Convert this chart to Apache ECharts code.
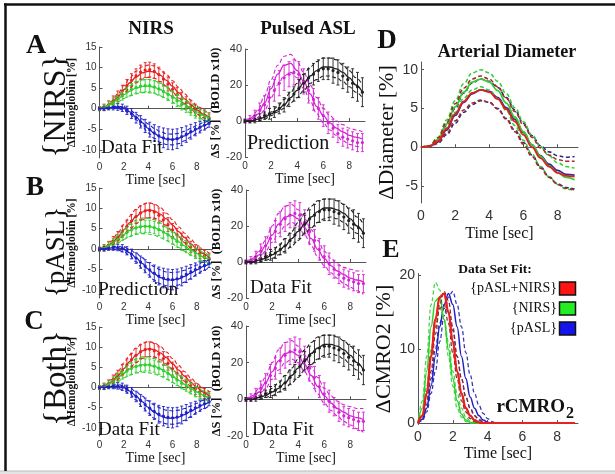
<!DOCTYPE html>
<html><head><meta charset="utf-8">
<script src="https://cdn.jsdelivr.net/npm/echarts@6/dist/echarts.min.js"></script>
<style>html,body{margin:0;padding:0;background:#fff}#c{width:615px;height:474px}</style>
</head><body><div id="c"></div>
<script>
// ---------- time grids ----------
const tData = [0,0.375,0.75,1.125,1.5,1.875,2.25,2.625,3,3.375,3.75,4.125,4.5,4.875,5.25,5.625,6,6.375,6.75,7.125,7.5,7.875,8.25,8.625,9];
const tFit = [0,0.5,1,1.5,2,2.5,3,3.5,4,4.5,5,5.5,6,6.5,7,7.5,8,8.5,9];
const tE = [0,0.25,0.5,0.75,1,1.25,1.5,1.75,2,2.25,2.5,2.75,3,3.25,3.5,3.75,4,4.25,4.5,4.75,5,9];
const timeTicks = [0,2,4,6,8];
const nirsTicks = [-10,-5,0,5,10,15];
const diamTicks = [-5,0,5,10];
const cmroTicks = [0,10,20];

// ---------- NIRS measured data (same in every row) ----------
const redData   = [0,0.3,0.9,1.9,3.0,4.3,5.6,6.9,8.0,8.9,9.4,9.5,9.1,8.3,7.2,6.0,4.7,3.5,2.4,1.4,0.5,-0.3,-1.0,-1.6,-2.2];
const redErr    = [0.5,0.8,1.0,1.2,1.3,1.4,1.5,1.6,1.7,1.7,1.8,1.8,1.8,1.8,1.7,1.7,1.6,1.6,1.5,1.5,1.4,1.4,1.3,1.3,1.2];
const greenData = [0,0.3,0.8,1.6,2.4,3.3,4.1,4.7,5.2,5.5,5.6,5.6,5.3,4.8,4.2,3.5,2.7,1.9,1.1,0.4,-0.3,-1.0,-1.6,-2.1,-2.6];
const greenErr  = [0.4,0.7,0.9,1.0,1.1,1.2,1.3,1.4,1.4,1.5,1.5,1.5,1.5,1.5,1.5,1.5,1.4,1.4,1.4,1.3,1.3,1.3,1.2,1.2,1.2];
const blueData  = [0,0.1,0.3,0.4,0.4,0.2,-0.4,-1.2,-2.2,-3.2,-4.2,-5.1,-5.9,-6.6,-7.1,-7.4,-7.5,-7.3,-6.8,-6.2,-5.6,-5.0,-4.5,-4.0,-3.5];
const blueErr   = [0.3,0.5,0.6,0.7,0.8,0.9,1.0,1.2,1.3,1.5,1.6,1.8,2.0,2.2,2.4,2.5,2.5,2.4,2.2,2.0,1.8,1.6,1.4,1.2,1.0];

// ---------- Pulsed ASL measured data ----------
const magData = [0,1,3,6,9,13,17,21,24,26,27,26,22,17,12,7,3,-1,-4,-7,-9,-10,-11,-12,-12];
const magErr  = [1,2,3,4,5,6,6,7,7,7,7,7,7,7,6,6,6,6,5,5,5,5,5,5,5];
const blkData = [0,0,1,2,3,4,5,7,9,12,15,18,21,24,26,28,29,29,28,27,25,23,21,19,16];
const blkErr  = [1,1,2,2,2,3,3,3,4,4,4,5,5,5,6,6,6,6,7,7,7,7,8,8,8];

// ---------- NIRS fits, row A ----------
const redFitA   = [0,0.4,1.4,2.9,4.6,6.3,7.7,8.7,9.1,8.9,8.1,6.9,5.4,3.9,2.4,1.0,-0.3,-1.3,-2.2];
const redUpA    = [0,0.6,1.8,3.6,5.6,7.5,9.1,10.2,10.6,10.4,9.6,8.3,6.8,5.2,3.6,2.1,0.7,-0.4,-1.3];
const redLoA    = [0,0.2,1.0,2.2,3.6,5.1,6.3,7.2,7.6,7.4,6.6,5.5,4.0,2.6,1.2,-0.1,-1.3,-2.2,-3.1];
const greenFitA = [0,0.3,1.2,2.3,3.4,4.3,5.0,5.4,5.5,5.2,4.6,3.8,2.9,2.0,1.0,0.1,-0.8,-1.6,-2.3];
const greenUpA  = [0,0.5,1.6,3.0,4.4,5.6,6.5,7.0,7.1,6.8,6.2,5.3,4.3,3.3,2.3,1.3,0.4,-0.5,-1.3];
const greenLoA  = [0,0.1,0.8,1.6,2.5,3.1,3.6,3.9,3.9,3.7,3.1,2.4,1.6,0.7,-0.2,-1.1,-1.9,-2.6,-3.2];
const blueFitA  = [0,0.1,0.3,0.3,0.0,-0.8,-2.0,-3.4,-4.8,-6.0,-6.9,-7.4,-7.5,-7.2,-6.6,-5.8,-5.0,-4.2,-3.5];
const blueUpA   = [0,0.2,0.5,0.6,0.4,-0.3,-1.3,-2.5,-3.7,-4.8,-5.6,-6.1,-6.2,-6.0,-5.5,-4.8,-4.1,-3.4,-2.8];
const blueLoA   = [0,0,0.1,0,-0.4,-1.3,-2.7,-4.3,-5.9,-7.2,-8.2,-8.7,-8.8,-8.5,-7.8,-6.9,-6.0,-5.1,-4.3];

// ---------- NIRS fits, rows B and C ----------
const redFitBC   = [0,0.4,1.4,2.9,4.7,6.5,8.0,9.1,9.6,9.4,8.6,7.4,5.9,4.3,2.8,1.3,0,-1.1,-2.1];
const redUpBC    = [0,0.7,2.0,3.9,6.1,8.1,9.8,10.9,11.4,11.1,10.2,8.8,7.2,5.5,3.9,2.4,1.0,-0.1,-1.0];
const redLoBC    = [0,0.2,0.9,2.0,3.4,4.9,6.2,7.2,7.7,7.6,6.9,5.8,4.5,3.0,1.6,0.3,-0.9,-2.0,-3.0];
const greenFitBC = [0,0.3,1.2,2.4,3.6,4.6,5.3,5.6,5.6,5.3,4.6,3.8,2.8,1.8,0.8,-0.2,-1.1,-1.9,-2.6];
const greenUpBC  = [0,0.5,1.7,3.2,4.8,6.1,7.1,7.6,7.6,7.2,6.4,5.4,4.3,3.2,2.1,1.1,0.1,-0.8,-1.6];
const greenLoBC  = [0,0.1,0.7,1.5,2.4,3.1,3.6,3.8,3.7,3.4,2.8,2.1,1.2,0.4,-0.5,-1.4,-2.2,-2.9,-3.5];
const blueFitBC  = [0,0.1,0.3,0.3,-0.1,-0.9,-2.1,-3.5,-4.9,-6.1,-7.0,-7.5,-7.6,-7.3,-6.7,-5.9,-5.1,-4.3,-3.6];
const blueUpBC   = [0,0.2,0.6,0.7,0.5,-0.1,-1.0,-2.1,-3.3,-4.3,-5.1,-5.6,-5.8,-5.6,-5.2,-4.6,-3.9,-3.2,-2.6];
const blueLoBC   = [0,0,0,-0.2,-0.7,-1.6,-3.1,-4.7,-6.3,-7.6,-8.5,-9.0,-9.1,-8.8,-8.1,-7.2,-6.2,-5.3,-4.5];

// ---------- ASL fits ----------
const magFitA  = [0,1,4,10,18,26,31,32,28,22,15,8,3,-1,-4,-6,-8,-9,-10];
const magUpA   = [0,2,6,14,23,31,36,37,33,27,20,13,7,3,0,-2,-4,-5,-6];
const magLoA   = [0,0,2,6,13,20,25,27,24,18,11,4,-1,-5,-8,-11,-13,-14,-15];
const blkFitA  = [0,0,1,2,4,6,9,13,17,21,25,28,30,30,29,27,24,20,16];
const blkUpA   = [0,0,1,3,5,8,12,16,21,26,30,33,35,35,34,31,28,24,20];
const blkLoA   = [0,0,0,1,3,5,7,10,13,17,21,23,25,25,24,22,19,16,13];
const magFitBC = [0,1,4,9,15,21,25,26,24,19,13,7,2,-2,-5,-7,-9,-10,-11];
const magUpBC  = [0,2,6,12,20,27,31,32,29,24,18,12,6,2,-1,-3,-4,-5,-5];
const magLoBC  = [0,0,2,6,11,16,20,22,20,15,9,3,-2,-6,-9,-12,-14,-16,-18];
const blkFitBC = [0,0,1,2,4,6,9,13,17,21,25,28,30,30,29,27,24,20,16];
const blkUpBC  = [0,0,1,3,6,9,13,17,22,27,31,34,35,35,34,32,29,25,21];
const blkLoBC  = [0,0,0,1,2,4,6,9,12,16,19,22,24,25,24,22,19,16,12];

// ---------- D: arterial diameter ----------
const dGreen   = [0,0.1,1.0,3.0,5.2,7.1,8.4,8.8,8.4,7.3,5.7,3.9,2.0,0.3,-1.2,-2.4,-3.3,-3.9,-4.2];
const dGreenUp = [0,0.2,1.3,3.5,6.0,8.2,9.6,10.0,9.6,8.5,6.9,5.1,3.3,1.6,0.1,-1.1,-2.0,-2.5,-2.7];
const dGreenLo = [0,0.1,0.8,2.5,4.5,6.3,7.4,7.8,7.4,6.3,4.7,2.8,0.9,-0.9,-2.5,-3.8,-4.8,-5.4,-5.6];
const dRed     = [0,0.1,0.8,2.4,4.3,5.9,7.0,7.4,7.1,6.2,4.9,3.3,1.6,0.0,-1.4,-2.5,-3.3,-3.7,-3.8];
const dRedUp   = [0,0.2,1.2,3.2,5.6,7.6,8.8,9.2,8.8,7.8,6.3,4.6,2.9,1.3,-0.1,-1.0,-1.6,-1.8,-1.8];
const dRedLo   = [0,0.1,0.6,1.8,3.4,4.8,5.7,6.1,5.8,4.9,3.6,2.0,0.4,-1.2,-2.7,-3.9,-4.8,-5.3,-5.5];
const dBlue    = [0,0.1,0.7,2.2,4.1,5.8,6.9,7.4,7.2,6.4,5.1,3.6,1.9,0.3,-1.1,-2.2,-3.0,-3.5,-3.6];
const dBlueUp  = [0,0.1,1.0,2.8,5.0,7.0,8.3,8.8,8.5,7.7,6.4,4.8,3.1,1.5,0.2,-0.6,-1.1,-1.3,-1.2];
const dBlueLo  = [0,0.1,0.5,1.6,3.1,4.5,5.5,6.0,5.8,5.0,3.7,2.2,0.6,-1.0,-2.5,-3.8,-4.7,-5.2,-5.4];

// ---------- E: rCMRO2 ----------
const eGreen   = [0,2,7,13,16.5,17,14,10,6,3,1.2,0.4,0.1,0,0,0,0,0,0,0,0,0];
const eGreenUp = [0,3,9,16,19,18,14,9,5,2,0.8,0.2,0,0,0,0,0,0,0,0,0,0];
const eGreenLo = [0,1,5,10,14,15.5,14,11,7,4,2,0.8,0.3,0.1,0,0,0,0,0,0,0,0];
const eRed     = [0,1,4,9,14,17,17.5,15,11,7,4,2,1,0.4,0.1,0,0,0,0,0,0,0];
const eRedUp   = [0,1,3,7,12,16,17.8,16.5,13,9,6,3.5,2,1,0.5,0.2,0,0,0,0,0,0];
const eRedLo   = [0,1,4,9,13,15.5,16,13.5,9.5,6,3,1.5,0.6,0.2,0,0,0,0,0,0,0,0];
const eBlue    = [0,0.5,2,5,9,13,16,17.5,16,13,9,6,3.5,2,1,0.4,0.1,0,0,0,0,0];
const eBlueUp  = [0,0.3,1.5,4,7,11,14.5,17,17.8,16,13,9.5,6.5,4,2.4,1.3,0.6,0.2,0,0,0,0];
const eBlueLo  = [0,0.6,2.5,6,10,13.5,15.5,15,12.5,9,6,3.5,2,1,0.4,0.1,0,0,0,0,0,0];

// ---------- legend labels ----------
const legendTitle = 'Data Set Fit:';
const legendNames = ['{pASL+NIRS}','{NIRS}','{pASL}'];

// ================= styling / layout =================
const SERIF = "'Liberation Serif','Times New Roman',serif";
const SANS = "'Liberation Sans Narrow','Liberation Sans',Arial,sans-serif";
const C = {red:'#e82020', green:'#2ed02e', blue:'#2020c8', mag:'#d424d4', blk:'#202020',
           dRed:'#e02020', dRedD:'#a82828', dGreen:'#34cc34', dBlue:'#3a2a92', dBlueD:'#2a2a80'};

const grids = [
  {left:99.5, top:47,  width:112, height:111},
  {left:245,  top:49,  width:120, height:108},
  {left:99.5, top:188, width:112, height:110},
  {left:246,  top:190, width:120, height:108},
  {left:99.5, top:327, width:112, height:109},
  {left:246,  top:326, width:120, height:110},
  {left:421,  top:62,  width:157, height:141},
  {left:418,  top:273.5,width:160, height:151}
];

const axLine = {show:true, lineStyle:{color:'#555', width:1}};
function xAx(g, small) {
  return {gridIndex:g, type:'value', min:0, max:9.2,
    axisLine:axLine, splitLine:{show:false},
    axisTick:{inside:true, length:3, lineStyle:{color:'#555'}, customValues:timeTicks},
    axisLabel:{customValues:timeTicks, fontFamily:SANS, fontSize: small?10:14, color:'#333', margin: small?4:6},
    name:'Time [sec]', nameLocation:'middle', nameGap: small?9:(g===6?23:20),
    nameTextStyle:{fontFamily:SERIF, fontSize: small?14:16, color:'#111'}};
}
function yAx(g, opt) {
  const o = {gridIndex:g, type:'value', min:opt.min, max:opt.max,
    axisLine:axLine, splitLine:{show:false},
    axisTick:{inside:true, length:3, lineStyle:{color:'#555'}},
    axisLabel:{fontFamily:SANS, fontSize:opt.fs, color:'#333', margin:3},
    name:opt.name, nameLocation:'middle', nameGap:opt.gap, nameRotate:90,
    nameTextStyle:{fontFamily:SERIF, fontSize:opt.nfs, fontWeight:opt.bold?'bold':'normal', color:'#111'}};
  if (opt.ticks) { o.axisTick.customValues = opt.ticks; o.axisLabel.customValues = opt.ticks; }
  else { o.interval = opt.interval; }
  return o;
}
const nirsY = g => yAx(g, {min:-12, max:15, ticks:nirsTicks, fs:10, name:'ΔHemoglobin [%]', gap:12, nfs:11.5, bold:true});
const aslY  = g => yAx(g, {min:-20, max:40, interval:20, fs:11, name:'ΔS [%]  (BOLD x10)', gap:17, nfs:12.5, bold:true});

const xAxis = [xAx(0,1),xAx(1,1),xAx(2,1),xAx(3,1),xAx(4,1),xAx(5,1),xAx(6,0),xAx(7,0)];
const yAxis = [nirsY(0), aslY(1), nirsY(2), aslY(3), nirsY(4), aslY(5),
  yAx(6,{min:-7.2, max:11, ticks:diamTicks, fs:14, name:'ΔDiameter [%]', gap:19, nfs:22}),
  yAx(7,{min:-0.2, max:20.2, ticks:cmroTicks, fs:14, name:'ΔCMRO2 [%]', gap:19, nfs:22})];

const pts = (ts, vs) => ts.map((t,i)=>[t, vs[i]]);
const series = [];
function errSeries(g, vals, errs, color) {
  series.push({type:'custom', xAxisIndex:g, yAxisIndex:g, z:2, silent:true,
    data: tData.map((t,i)=>[t, vals[i], errs[i]]),
    encode:{x:0, y:1},
    renderItem:(params, api) => {
      const x=api.value(0), y=api.value(1), e=api.value(2);
      const a=api.coord([x,y+e]), b=api.coord([x,y-e]), c=api.coord([x,y]);
      const st={stroke:color, lineWidth:0.9};
      return {type:'group', children:[
        {type:'line', shape:{x1:a[0],y1:a[1],x2:b[0],y2:b[1]}, style:st},
        {type:'line', shape:{x1:a[0]-1.5,y1:a[1],x2:a[0]+1.5,y2:a[1]}, style:st},
        {type:'line', shape:{x1:b[0]-1.5,y1:b[1],x2:b[0]+1.5,y2:b[1]}, style:st},
        {type:'circle', shape:{cx:c[0],cy:c[1],r:1.6}, style:{fill:color}}
      ]};
    }});
}
function line(g, ts, vals, color, dashed, w) {
  series.push({type:'line', xAxisIndex:g, yAxisIndex:g, z:3, silent:true,
    data: pts(ts, vals), showSymbol:false, smooth:0.4, smoothMonotone:'x',
    lineStyle:{color, width: w || (dashed?1.1:1.3), type: dashed?[4,2.5]:'solid'}});
}
function trio(g, ts, mid, up, lo, color, dashColor, w) {
  line(g, ts, up, dashColor||color, true, w && w*0.85);
  line(g, ts, lo, dashColor||color, true, w && w*0.85);
  line(g, ts, mid, color, false, w);
}

// NIRS rows
[[0,'A'],[2,'BC'],[4,'BC']].forEach(([g,k]) => {
  errSeries(g, redData, redErr, C.red);
  errSeries(g, greenData, greenErr, C.green);
  errSeries(g, blueData, blueErr, C.blue);
  if (k==='A') {
    trio(g, tFit, redFitA, redUpA, redLoA, C.red);
    trio(g, tFit, greenFitA, greenUpA, greenLoA, C.green);
    trio(g, tFit, blueFitA, blueUpA, blueLoA, C.blue);
  } else {
    trio(g, tFit, redFitBC, redUpBC, redLoBC, C.red);
    trio(g, tFit, greenFitBC, greenUpBC, greenLoBC, C.green);
    trio(g, tFit, blueFitBC, blueUpBC, blueLoBC, C.blue);
  }
});
// ASL rows
[[1,'A'],[3,'BC'],[5,'BC']].forEach(([g,k]) => {
  errSeries(g, magData, magErr, C.mag);
  errSeries(g, blkData, blkErr, C.blk);
  if (k==='A') {
    trio(g, tFit, magFitA, magUpA, magLoA, C.mag);
    trio(g, tFit, blkFitA, blkUpA, blkLoA, C.blk);
  } else {
    trio(g, tFit, magFitBC, magUpBC, magLoBC, C.mag);
    trio(g, tFit, blkFitBC, blkUpBC, blkLoBC, C.blk);
  }
});
// D
trio(6, tFit, dBlue, dBlueUp, dBlueLo, C.dBlue, C.dBlueD, 1.8);
trio(6, tFit, dGreen, dGreenUp, dGreenLo, C.dGreen, C.dGreen, 1.8);
trio(6, tFit, dRed, dRedUp, dRedLo, C.dRed, C.dRedD, 1.8);
// E
trio(7, tE, eBlue, eBlueUp, eBlueLo, C.blue, '#3535b8', 1.5);
trio(7, tE, eGreen, eGreenUp, eGreenLo, C.green, '#44d844', 1.5);
trio(7, tE, eRed, eRedUp, eRedLo, C.red, '#8a2a2a', 1.5);
line(7, tE, eRed, C.red, false, 2.2);

// ---------- text & frame ----------
const T = (text, x, y, size, opt={}) => ({type:'text', x, y, rotation:opt.rot||0, z:50, silent:true,
  style:{text, fontFamily:SERIF, fontSize:size, fontWeight:opt.bold?'bold':'normal', fill:opt.color||'#111',
         align:opt.align||'center', verticalAlign:'middle'}});
const R = Math.PI/2;
const graphic = [
  {type:'rect', shape:{x:0,y:471,width:615,height:3}, style:{fill:'#e4e4e4'}, z:40, silent:true},
  {type:'line', shape:{x1:0,y1:471,x2:615,y2:471}, style:{stroke:'#bbb', lineWidth:1}, z:40, silent:true},
  {type:'line', shape:{x1:4,y1:4.5,x2:615,y2:4.5}, style:{stroke:'#111', lineWidth:2.5}, z:40, silent:true},
  {type:'line', shape:{x1:5.5,y1:3.5,x2:5.5,y2:471}, style:{stroke:'#111', lineWidth:2.5}, z:40, silent:true},
  T('NIRS', 151, 29, 19, {bold:true}),
  T('Pulsed ASL', 308, 29, 19, {bold:true}),
  T('A', 36, 46, 28, {bold:true}),
  T('B', 35, 188, 27, {bold:true}),
  T('C', 34, 322, 27, {bold:true}),
  T('D', 387, 41, 27, {bold:true}),
  T('E', 391, 250, 26, {bold:true}),
  T('{NIRS}', 57, 106, 32, {rot:R}),
  T('{pASL}', 57, 252, 27, {rot:R}),
  T('{Both}', 57, 378, 33, {rot:R}),
  T('Data Fit', 101, 148, 19, {align:'left'}),
  T('Prediction', 247, 144, 20, {align:'left'}),
  T('Prediction', 98, 290, 19.5, {align:'left'}),
  T('Data Fit', 250, 288, 19, {align:'left'}),
  T('Data Fit', 98, 430, 19, {align:'left'}),
  T('Data Fit', 252, 430, 19, {align:'left'}),
  T('Arterial Diameter', 507, 52, 18, {bold:true}),
  T(legendTitle, 495, 270, 13.5, {bold:true}),
  T(legendNames[0], 557, 288, 14, {align:'right'}),
  T(legendNames[1], 557, 308.5, 14, {align:'right'}),
  T(legendNames[2], 557, 328.5, 14, {align:'right'}),
  {type:'rect', shape:{x:559.5,y:282,width:16,height:13}, style:{fill:'#ff1414', stroke:'#111', lineWidth:1.5}, z:50},
  {type:'rect', shape:{x:559.5,y:302,width:16,height:13}, style:{fill:'#22ee22', stroke:'#111', lineWidth:1.5}, z:50},
  {type:'rect', shape:{x:559.5,y:322,width:16,height:13}, style:{fill:'#1414ee', stroke:'#111', lineWidth:1.5}, z:50},
  T('rCMRO', 565, 407, 19, {bold:true, align:'right'}),
  T('2', 566, 414, 16, {bold:true, align:'left'})
];

const chart = echarts.init(document.getElementById('c'));
chart.setOption({animation:false, backgroundColor:'#fff', grid:grids, xAxis, yAxis, series, graphic});
</script></body></html>
